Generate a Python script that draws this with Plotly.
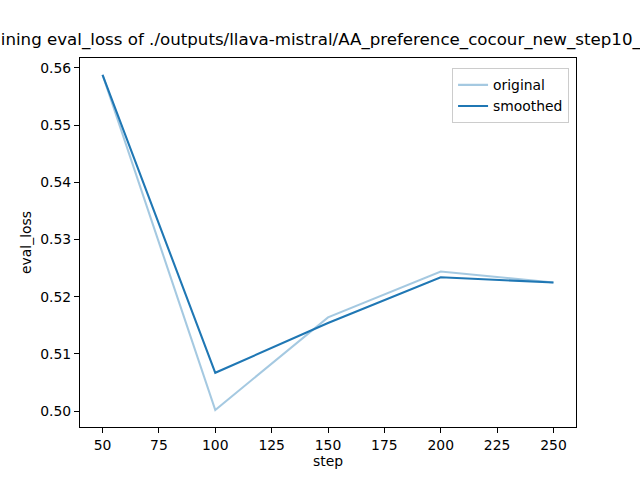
import plotly.graph_objects as go

steps = [50, 100, 150, 200, 250]
original = [0.5588, 0.5002, 0.5164, 0.5244, 0.5225]
smoothed = [0.5588, 0.5067, 0.5154, 0.5234, 0.5225]
x_ticks = [50, 75, 100, 125, 150, 175, 200, 225, 250]
y_ticks = [0.50, 0.51, 0.52, 0.53, 0.54, 0.55, 0.56]
title_text = "Training eval_loss of ./outputs/llava-mistral/AA_preference_cocour_new_step10_"

FONT = "DejaVu Sans"
L, R, T, B = 80, 64, 58, 53
W, H = 640, 480
pw = W - L - R

fig = go.Figure()
fig.add_trace(go.Scatter(x=steps, y=original, mode="lines", name="original",
                         line=dict(color="rgba(31,119,180,0.4)", width=2.08)))
fig.add_trace(go.Scatter(x=steps, y=smoothed, mode="lines", name="smoothed",
                         line=dict(color="#1f77b4", width=2.08)))

axis_common = dict(showline=True, linecolor="black", linewidth=1.1, mirror=True,
                   ticks="outside", ticklen=5, tickwidth=1.1, tickcolor="black",
                   showgrid=False, zeroline=False,
                   tickfont=dict(family=FONT, size=13.9, color="black"))

fig.update_layout(
    width=W, height=H,
    margin=dict(l=L, r=R, t=T, b=B),
    paper_bgcolor="white", plot_bgcolor="white",
    font=dict(family=FONT, color="black"),
    showlegend=True,
    legend=dict(x=0.986, y=0.972, xanchor="right", yanchor="top",
                bgcolor="rgba(255,255,255,0.8)", bordercolor="#cccccc", borderwidth=1,
                font=dict(family=FONT, size=13.9, color="black"),
                itemwidth=30, tracegroupgap=0),
    xaxis=dict(range=[40, 260], tickvals=x_ticks,
               title=dict(text="step", font=dict(family=FONT, size=13.9), standoff=4),
               **axis_common),
    yaxis=dict(range=[0.49723, 0.56173], tickvals=y_ticks, tickformat=".2f",
               title=dict(text="eval_loss", font=dict(family=FONT, size=13.9), standoff=5),
               **axis_common),
)

fig.add_annotation(text=title_text, xref="paper", yref="paper",
                   x=(-27 - L) / pw, y=1, xanchor="left", yanchor="bottom",
                   yshift=6, showarrow=False,
                   font=dict(family=FONT, size=16.67, color="black"))

fig.write_html("out.html")
